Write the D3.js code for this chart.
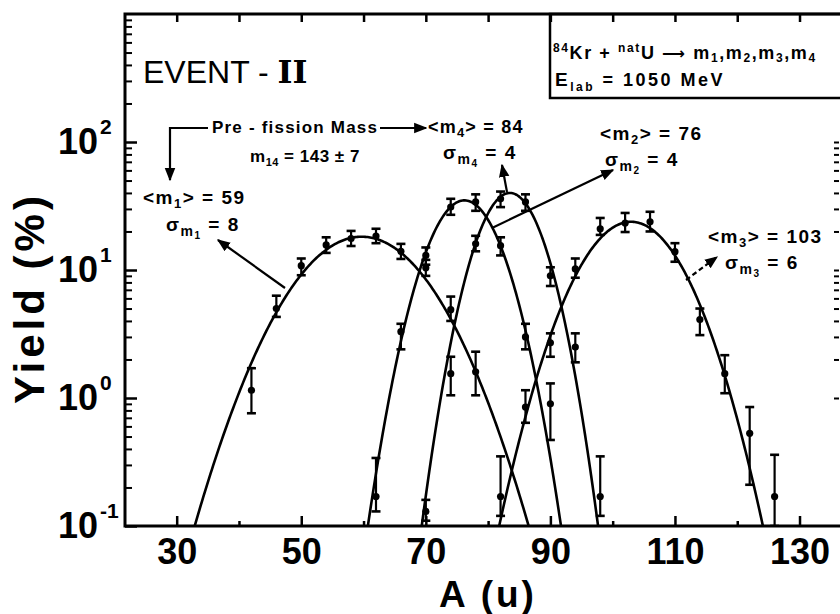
<!DOCTYPE html>
<html><head><meta charset="utf-8">
<script src="https://cdn.jsdelivr.net/npm/d3@7"></script>
<style>body{margin:0;background:#fff}svg{display:block}</style>
</head><body><svg id="c" width="840" height="614"></svg>
<script>
// ---------- data ----------
const binsM1 = [42,46,50,54,58,62,66,70,74,78];
const yieldM1 = [1.15,5.0,10.8,15.7,17.6,18.4,14.0,10.4,4.9,1.6];
const loM1 = [0.76,4.3,9.1,13.6,15.4,16.2,12.2,9.0,4.0,1.05];
const hiM1 = [1.71,6.3,12.3,18.0,20.2,21.0,16.0,12.0,6.2,2.3];

const binsM2 = [62,66,70,74,78,82,86,90];
const yieldM2 = [0.17,3.3,13.0,31,34,15.5,3.0,0.9];
const loM2 = [0.13,2.4,11.0,27,29,13,2.4,0.47];
const hiM2 = [0.34,3.8,15.0,36,39,18,3.8,1.3];

const binsM4 = [70,74,78,82,86,90,94,98];
const yieldM4 = [0.13,1.55,16,36,34,9.0,2.5,0.17];
const loM4 = [0.11,1.05,14,31,29,7.5,1.9,0.12];
const hiM4 = [0.16,2.1,18.5,41,39,10.5,3.2,0.35];

const binsM3 = [82,86,90,94,98,102,106,110,114,118,122,126];
const yieldM3 = [0.17,0.85,2.7,10.2,21,23.3,23.8,13.9,4.1,1.55,0.53,0.17];
const loM3 = [0.12,0.64,2.1,8.7,18.8,19.8,20,11.6,3.1,1.09,0.21,0.1];
const hiM3 = [0.35,1.15,3.2,12.3,25.5,27.9,28.5,16.2,5.0,2.16,0.85,0.36];

// Gaussian fit parameters (m1, m2, m4, m3)
const fitMean  = [59.7, 76.2, 83.5, 102.95];
const fitSigma = [8.31, 4.53, 4.09, 6.4];
const fitPeak  = [18.2, 35, 40, 23.8];

const xLabelTicks = [30,50,70,90,110,130];
const xMinorTicks = [40,60,80,100,120];
const yMajorTicks = [0.1,1,10,100];
const yExponents  = ["-1","0","1","2"];

// ---------- setup ----------
const svg = d3.select("#c");
const L=125, R=840, T=14, B=526;
const x = d3.scaleLinear().domain([21.7,136.5]).range([L,R]);
const y = d3.scaleLog().domain([0.1,1000]).range([B,T]);
const FONT = "'Liberation Sans', Arial, Helvetica, sans-serif";

const defs = svg.append("defs");
defs.append("clipPath").attr("id","plotclip").append("rect")
  .attr("x",L).attr("y",T).attr("width",R-L).attr("height",B-T);
defs.append("marker").attr("id","ah").attr("viewBox","0 0 10 10")
  .attr("refX",9).attr("refY",5).attr("markerWidth",6).attr("markerHeight",6)
  .attr("orient","auto-start-reverse").attr("markerUnits","strokeWidth")
  .append("path").attr("d","M0,1 L10,5 L0,9 z").attr("fill","#000");

// ---------- curves ----------
const series = [
  {A:binsM1, Y:yieldM1, lo:loM1, hi:hiM1, k:0},
  {A:binsM2, Y:yieldM2, lo:loM2, hi:hiM2, k:1},
  {A:binsM4, Y:yieldM4, lo:loM4, hi:hiM4, k:2},
  {A:binsM3, Y:yieldM3, lo:loM3, hi:hiM3, k:3}
];
const plot = svg.append("g").attr("clip-path","url(#plotclip)");
const line = d3.line().x(d=>x(d[0])).y(d=>y(d[1]));
series.forEach(s=>{
  const m=fitMean[s.k], sg=fitSigma[s.k], p=fitPeak[s.k];
  const pts=[];
  for(let a=m-4*sg; a<=m+4*sg; a+=0.2){
    pts.push([a, Math.max(0.05, p*Math.exp(-(a-m)*(a-m)/(2*sg*sg)))]);
  }
  plot.append("path").attr("d",line(pts)).attr("fill","none")
    .attr("stroke","#000").attr("stroke-width",2.6);
});

// ---------- points with error bars ----------
series.forEach(s=>{
  const g = plot.append("g");
  s.A.forEach((a,i)=>{
    const cx=x(a);
    g.append("line").attr("x1",cx).attr("x2",cx)
      .attr("y1",y(s.hi[i])).attr("y2",y(s.lo[i]))
      .attr("stroke","#000").attr("stroke-width",2.2);
    [s.hi[i], s.lo[i]].forEach(v=>{
      g.append("line").attr("x1",cx-4.5).attr("x2",cx+4.5)
        .attr("y1",y(v)).attr("y2",y(v))
        .attr("stroke","#000").attr("stroke-width",2.6);
    });
    g.append("circle").attr("cx",cx).attr("cy",y(s.Y[i])).attr("r",3.6).attr("fill","#000");
  });
});

// ---------- frame & axes ----------
const axG = svg.append("g");
const xb = axG.append("g").attr("transform",`translate(0,${B})`)
  .call(d3.axisBottom(x).tickValues(xLabelTicks).tickSize(-10).tickFormat(d=>d));
xb.select(".domain").remove();
xb.selectAll(".tick line").attr("stroke","#000").attr("stroke-width",2.5);
xb.selectAll(".tick text").attr("dy",null).attr("y",38)
  .attr("font-family",FONT).attr("font-size",36).attr("font-weight","bold").attr("fill","#000");
const xb2 = axG.append("g").attr("transform",`translate(0,${B})`)
  .call(d3.axisBottom(x).tickValues(xMinorTicks).tickSize(-5).tickFormat(""));
xb2.select(".domain").remove();
xb2.selectAll(".tick line").attr("stroke","#000").attr("stroke-width",2.5);
const xt = axG.append("g").attr("transform",`translate(0,${T})`)
  .call(d3.axisTop(x).tickValues(xLabelTicks.concat(xMinorTicks)).tickSize(-8).tickFormat(""));
xt.select(".domain").remove();
xt.selectAll(".tick line").attr("stroke","#000").attr("stroke-width",2.5);

const yMinor=[];
[0.1,1,10,100].forEach(d=>{for(let k=2;k<=9;k++) yMinor.push(d*k);});
const yl2 = axG.append("g").attr("transform",`translate(${L},0)`)
  .call(d3.axisLeft(y).tickValues(yMinor).tickSize(-7).tickFormat(""));
yl2.select(".domain").remove();
yl2.selectAll(".tick line").attr("stroke","#000").attr("stroke-width",2);
const yl = axG.append("g").attr("transform",`translate(${L},0)`)
  .call(d3.axisLeft(y).tickValues(yMajorTicks).tickSize(-12).tickFormat(""));
yl.select(".domain").remove();
yl.selectAll(".tick line").attr("stroke","#000").attr("stroke-width",2.5);
yMajorTicks.forEach((v,i)=>{
  axG.append("text").attr("font-family",FONT).attr("font-weight","bold").attr("fill","#000")
    .attr("x",98).attr("y",y(v)+12).attr("text-anchor","end").attr("font-size",36).text("10");
  axG.append("text").attr("font-family",FONT).attr("font-weight","bold")
    .attr("x",100).attr("y",y(v)-8).attr("font-size",21).text(yExponents[i]);
});
const yRight = yMinor.filter(v=>v>=1&&v<=100).concat([1,10,100]);
const yr = axG.append("g").attr("transform",`translate(839,0)`)
  .call(d3.axisRight(y).tickValues(yRight).tickSize(-5).tickFormat(""));
yr.select(".domain").remove();
yr.selectAll(".tick line").attr("stroke","#000").attr("stroke-width",2);

axG.append("path").attr("d",`M${R+5},${T}H${L}V${B}H${R+5}`)
  .attr("fill","none").attr("stroke","#000").attr("stroke-width",3);

svg.append("text").attr("transform",`translate(44,298) rotate(-90)`)
  .attr("text-anchor","middle").attr("font-family",FONT).attr("font-weight","bold")
  .attr("font-size",42).attr("letter-spacing",4).text("Yield (%)");
svg.append("text").attr("x",488).attr("y",607).attr("text-anchor","middle")
  .attr("font-family",FONT).attr("font-weight","bold").attr("font-size",37)
  .attr("letter-spacing",3).text("A (u)");

// ---------- annotations ----------
const ann = svg.append("g").attr("font-family",FONT).attr("font-weight","bold").attr("fill","#000");
function rich(xp, yp, parts, fs, ls){
  const t = ann.append("text").attr("x",xp).attr("y",yp).attr("font-size",fs)
    .attr("letter-spacing",ls||0);
  let cur=0;
  parts.forEach(p=>{
    const sh = p.s||0;
    const ts = t.append("tspan").attr("dy",sh-cur).text(p.t);
    if(p.f) ts.attr("font-size",p.f);
    if(p.ff) ts.attr("font-family",p.ff);
    cur=sh;
  });
  return t;
}
const ev = ann.append("text").attr("x",143).attr("y",83).attr("font-size",32).attr("font-weight","normal");
ev.append("tspan").text("EVENT - ");
ev.append("tspan").attr("font-family","'DejaVu Serif', 'Liberation Serif', serif").attr("font-weight","bold").text("II");

ann.append("rect").attr("x",550).attr("y",T).attr("width",300).attr("height",84)
  .attr("fill","none").attr("stroke","#000").attr("stroke-width",2.5);
rich(553,59,[{t:"84",s:-7,f:12},{t:"Kr + ",s:0},{t:"nat",s:-7,f:12},{t:"U ",s:0},
  {t:"⟶",ff:"'DejaVu Sans', sans-serif",f:16},{t:" m"},{t:"1",s:3,f:12},
  {t:",m",s:0},{t:"2",s:3,f:12},{t:",m",s:0},{t:"3",s:3,f:12},{t:",m",s:0},{t:"4",s:3,f:12}],18,1.6);
rich(555,86,[{t:"E",f:19},{t:"lab",s:5,f:12},{t:" = 1050 MeV",s:0}],18,2.5);

rich(143,204,[{t:"<m"},{t:"1",s:4,f:13},{t:"> = 59",s:0}],19,1.5);
rich(166,231,[{t:"σ"},{t:"m",s:5,f:14},{t:"1",s:8,f:10},{t:"   = 8",s:0}],19,1.5);
rich(428,133,[{t:"<m"},{t:"4",s:4,f:13},{t:"> = 84",s:0}],18,1.2);
rich(443,159,[{t:"σ"},{t:"m",s:5,f:14},{t:"4",s:8,f:10},{t:"   = 4",s:0}],19,1.5);
rich(600,140,[{t:"<m"},{t:"2",s:4,f:13},{t:"> = 76",s:0}],19,1.5);
rich(605,166,[{t:"σ"},{t:"m",s:5,f:14},{t:"2",s:8,f:10},{t:"   = 4",s:0}],19,1.5);
rich(708,243,[{t:"<m"},{t:"3",s:4,f:13},{t:"> = 103",s:0}],19,1.5);
rich(725,269,[{t:"σ"},{t:"m",s:5,f:14},{t:"3",s:8,f:10},{t:"   = 6",s:0}],19,1.5);
rich(212,133,[{t:"Pre - fission Mass"}],17,1.2);
rich(250,162,[{t:"m"},{t:"14",s:4,f:11},{t:" = 143 ± 7",s:0}],17,0.5);

const arrow=(d,dash)=>ann.append("path").attr("d",d).attr("fill","none").attr("stroke","#000")
  .attr("stroke-width",2.2).attr("marker-end","url(#ah)").attr("stroke-dasharray",dash||null);
arrow("M208,128H170V180");
arrow("M380,128H426");
arrow("M285,288L218,240");
arrow("M507,192L502,165");
arrow("M492,228L613,170");
arrow("M686,280L717,257","5,3");
</script></body></html>
